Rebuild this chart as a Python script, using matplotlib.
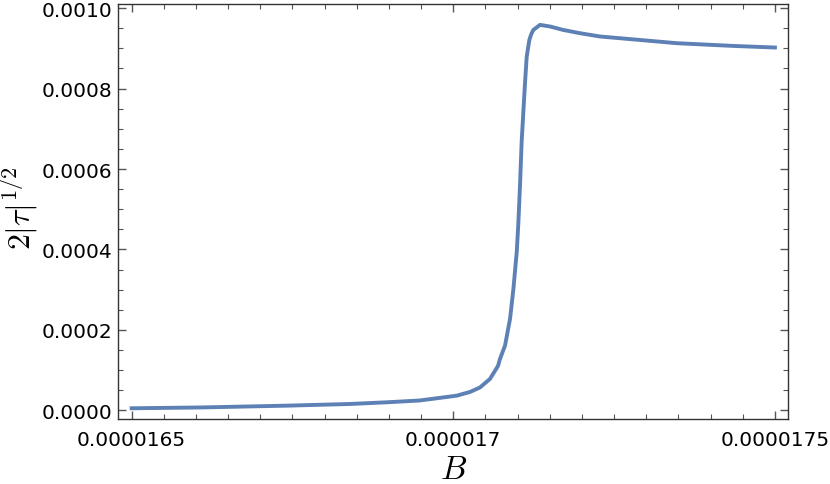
import numpy as np
import matplotlib
matplotlib.use("Agg")
import matplotlib.pyplot as plt
from matplotlib.ticker import MultipleLocator, FixedLocator

# curve (B in units of 1e-6, value in units of 1e-4)
b_vals = [16.5, 16.606, 16.7415, 16.8395, 16.897, 16.948, 17.0055, 17.026,
          17.0415, 17.057, 17.0695, 17.0726, 17.0804, 17.0882, 17.0933,
          17.0986, 17.1011, 17.1037, 17.1063, 17.1115, 17.1141, 17.1182,
          17.1211, 17.1244, 17.1348, 17.1504, 17.1706, 17.197, 17.2281,
          17.2592, 17.3478, 17.4349, 17.5]
tau_vals = [0.050, 0.070, 0.115, 0.157, 0.199, 0.244, 0.364, 0.456,
            0.568, 0.780, 1.104, 1.278, 1.610, 2.275, 3.000,
            3.937, 4.650, 5.600, 6.700, 8.150, 8.796, 9.210,
            9.350, 9.459, 9.584, 9.544, 9.459, 9.377, 9.295,
            9.252, 9.128, 9.061, 9.021]

x_ticks = [0.0000165, 0.000017, 0.0000175]
x_labels = ["0.0000165", "0.000017", "0.0000175"]
y_ticks = [0.0, 0.0002, 0.0004, 0.0006, 0.0008, 0.0010]
y_labels = ["0.0000", "0.0002", "0.0004", "0.0006", "0.0008", "0.0010"]

B = np.array(b_vals) * 1e-6
tau = np.array(tau_vals) * 1e-4

plt.rcParams['mathtext.fontset'] = 'cm'

fig = plt.figure(figsize=(8.3, 4.85), dpi=100)
ax = fig.add_axes([0.1425, 0.134, 0.807, 0.856])

ax.plot(B, tau, color='#5E81B5', lw=2.8, solid_joinstyle='round')

ax.set_xlim(1.64792e-5, 1.75204e-5)
ax.set_ylim(-0.0000217, 0.0010107)

ax.xaxis.set_major_locator(FixedLocator(x_ticks))
ax.set_xticklabels(x_labels)
ax.xaxis.set_minor_locator(MultipleLocator(5e-8))
ax.yaxis.set_major_locator(FixedLocator(y_ticks))
ax.set_yticklabels(y_labels)
ax.yaxis.set_minor_locator(MultipleLocator(5e-5))

ax.tick_params(which='both', direction='in', top=True, right=True,
               color='#555555', labelsize=14.5)
ax.tick_params(which='major', length=6, width=1.0)
ax.tick_params(which='minor', length=3.5, width=0.8)
ax.tick_params(axis='y', pad=4)
ax.tick_params(axis='x', pad=8)
for lab in ax.get_xticklabels() + ax.get_yticklabels():
    lab.set_family('DejaVu Sans')

for sp in ax.spines.values():
    sp.set_color('#333333')
    sp.set_linewidth(1.0)

ax.set_xlabel(r'$B$', fontsize=24)
ax.xaxis.set_label_coords(0.5, -0.12)
ax.xaxis.label.set_va('center')
ax.set_ylabel(r'$2|\tau|^{1/2}$', fontsize=23)
ax.yaxis.set_label_coords(-0.147, 0.51)
ax.yaxis.label.set_va('center')

fig.savefig('out.png', dpi=100)
